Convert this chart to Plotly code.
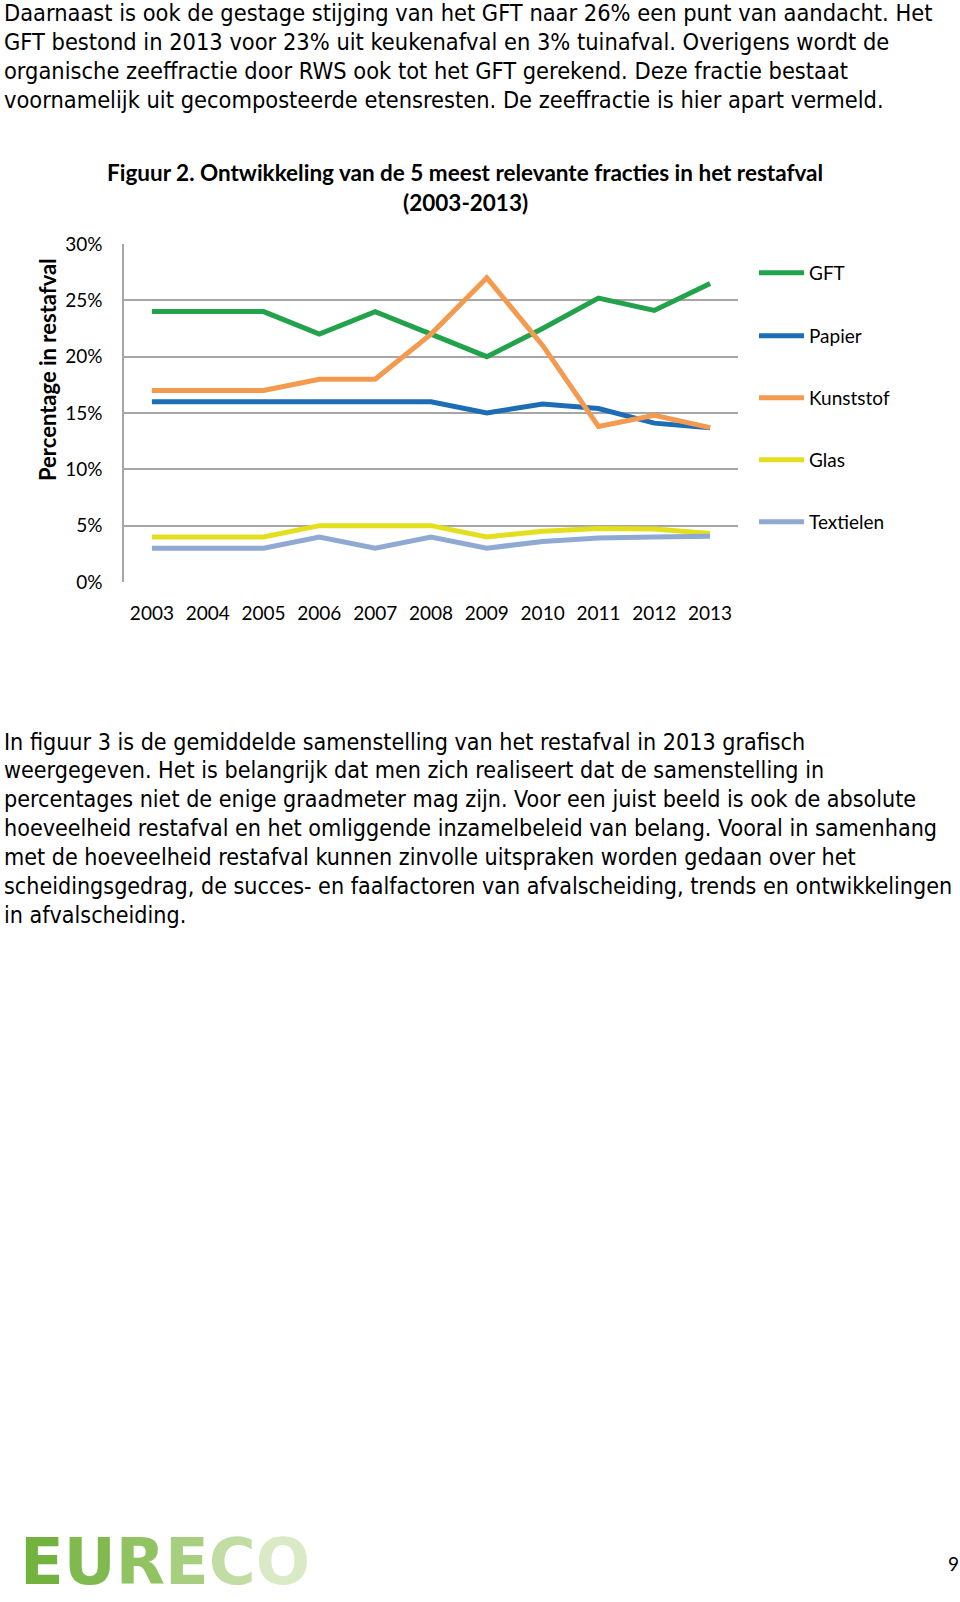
import plotly.graph_objects as go

# ---- data ----
years = ["2003", "2004", "2005", "2006", "2007", "2008", "2009", "2010", "2011", "2012", "2013"]
gft = [24, 24, 24, 22, 24, 22, 20, 22.5, 25.2, 24.1, 26.5]
papier = [16, 16, 16, 16, 16, 16, 15, 15.8, 15.4, 14.1, 13.7]
kunststof = [17, 17, 17, 18, 18, 22, 27, 21, 13.8, 14.8, 13.7]
glas = [4, 4, 4, 5, 5, 5, 4, 4.5, 4.75, 4.7, 4.3]
textielen = [3, 3, 3, 4, 3, 4, 3, 3.6, 3.9, 4.0, 4.05]

series_names = ["GFT", "Papier", "Kunststof", "Glas", "Textielen"]
series_values = [gft, papier, kunststof, glas, textielen]
series_colors = ["#21a24b", "#1c6db6", "#f39a4f", "#e3df1e", "#8fa9d3"]

y_ticks = [0, 5, 10, 15, 20, 25, 30]
y_tick_labels = ["0%", "5%", "10%", "15%", "20%", "25%", "30%"]

title_line1 = "Figuur 2. Ontwikkeling van de 5 meest relevante fracties in het restafval"
title_line2 = "(2003-2013)"
y_title = "Percentage in restafval"

para1 = [
    "Daarnaast is ook de gestage stijging van het GFT naar 26% een punt van aandacht. Het",
    "GFT bestond in 2013 voor 23% uit keukenafval en 3% tuinafval. Overigens wordt de",
    "organische zeeffractie door RWS ook tot het GFT gerekend. Deze fractie bestaat",
    "voornamelijk uit gecomposteerde etensresten. De zeeffractie is hier apart vermeld.",
]
para2 = [
    "In figuur 3 is de gemiddelde samenstelling van het restafval in 2013 grafisch",
    "weergegeven. Het is belangrijk dat men zich realiseert dat de samenstelling in",
    "percentages niet de enige graadmeter mag zijn. Voor een juist beeld is ook de absolute",
    "hoeveelheid restafval en het omliggende inzamelbeleid van belang. Vooral in samenhang",
    "met de hoeveelheid restafval kunnen zinvolle uitspraken worden gedaan over het",
    "scheidingsgedrag, de succes- en faalfactoren van afvalscheiding, trends en ontwikkelingen",
    "in afvalscheiding.",
]
logo_letters = ["E", "U", "R", "E", "C", "O"]
logo_colors = ["#74b23f", "#80b94d", "#92c363", "#a8cf80", "#c2dda3", "#dbeac6"]

# ---- page geometry ----
W, H = 960, 1602
PL, PR, PT, PB = 124, 738, 244, 582


def px(x):
    return (x - PL) / (PR - PL)


def py(y):
    return (PB - y) / (PB - PT)


CHART_FONT = "Lato"
BODY_FONT = "DejaVu Sans Condensed, DejaVu Sans"

fig = go.Figure()
legend_ids = ["legend", "legend2", "legend3", "legend4", "legend5"]
legend_y = [273, 336, 398, 460, 522]
for name, vals, col, lid in zip(series_names, series_values, series_colors, legend_ids):
    fig.add_trace(go.Scatter(
        x=years, y=vals, name=name, mode="lines",
        line=dict(color=col, width=5),
        legend=lid,
    ))

layout_legends = {}
for lid, ly in zip(legend_ids, legend_y):
    layout_legends[lid] = dict(
        x=px(754), y=py(ly), xanchor="left", yanchor="middle",
        font=dict(family=CHART_FONT, size=19, color="#000000"),
        bgcolor="rgba(0,0,0,0)", borderwidth=0, itemwidth=45,
    )

fig.update_layout(
    width=W, height=H,
    margin=dict(l=PL, r=W - PR, t=PT, b=H - PB, pad=0, autoexpand=False),
    paper_bgcolor="white", plot_bgcolor="white",
    showlegend=True,
    **layout_legends,
)

fig.update_xaxes(
    type="category", range=[-0.5, 10.5],
    showgrid=False, showline=False, zeroline=False,
    ticks="", ticklabelstandoff=18,
    tickfont=dict(family=CHART_FONT, size=19, color="#000000"),
)
fig.update_yaxes(
    range=[0, 30], tickmode="array", tickvals=y_ticks, ticktext=y_tick_labels,
    showgrid=True, gridcolor="#a6a6a6", gridwidth=1.5,
    showline=True, linecolor="#a6a6a6", linewidth=1.5,
    zeroline=False, ticks="", ticklabelstandoff=16,
    tickfont=dict(family=CHART_FONT, size=19, color="#000000"),
)

anns = []
# chart title
anns.append(dict(text="<b>%s</b>" % title_line1, x=px(465), y=py(173), xref="paper", yref="paper",
                 xanchor="center", yanchor="middle", showarrow=False,
                 font=dict(family=CHART_FONT, size=22.5, color="#000000")))
anns.append(dict(text="<b>%s</b>" % title_line2, x=px(465), y=py(202), xref="paper", yref="paper",
                 xanchor="center", yanchor="middle", showarrow=False,
                 font=dict(family=CHART_FONT, size=22.5, color="#000000")))
# y title
anns.append(dict(text="<b>%s</b>" % y_title, x=px(47), y=py(370), xref="paper", yref="paper",
                 xanchor="center", yanchor="middle", showarrow=False, textangle=-90,
                 font=dict(family=CHART_FONT, size=22, color="#000000")))
# body paragraphs
for i, line in enumerate(para1):
    anns.append(dict(text=line, x=px(2), y=py(12.5 + i * 29), xref="paper", yref="paper",
                     xanchor="left", yanchor="middle", showarrow=False, align="left",
                     font=dict(family=BODY_FONT, size=23.4, color="#000000")))
for i, line in enumerate(para2):
    anns.append(dict(text=line, x=px(2), y=py(741.5 + i * 28.9), xref="paper", yref="paper",
                     xanchor="left", yanchor="middle", showarrow=False, align="left",
                     font=dict(family=BODY_FONT, size=23.1, color="#000000")))
# logo
logo_html = "".join("<span style='color:%s'>%s</span>" % (c, l) for l, c in zip(logo_letters, logo_colors))
anns.append(dict(text="<b>%s</b>" % logo_html, x=px(18), y=py(1562), xref="paper", yref="paper",
                 xanchor="left", yanchor="middle", showarrow=False,
                 font=dict(family="DejaVu Sans", size=64, color="#74b23f")))
# page number
anns.append(dict(text="9", x=px(953), y=py(1563), xref="paper", yref="paper",
                 xanchor="center", yanchor="middle", showarrow=False,
                 font=dict(family=CHART_FONT, size=19, color="#000000")))

fig.update_layout(annotations=anns)
fig.write_html("out.html", config={"displayModeBar": False},
               post_script="document.body.style.margin='0';")
